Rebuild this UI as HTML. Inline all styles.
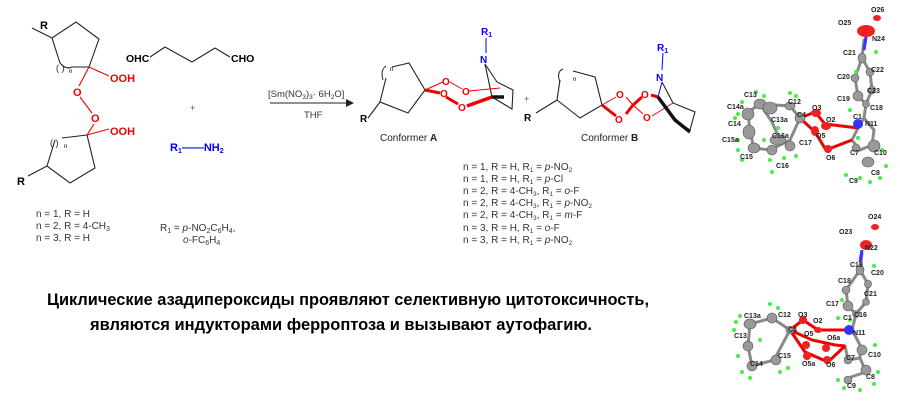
<!DOCTYPE html>
<html><head><meta charset="utf-8"><style>
html,body{margin:0;padding:0;background:#fff;width:900px;height:407px;overflow:hidden}
svg{display:block}
text{font-family:"Liberation Sans",sans-serif}
.t{font-size:10px;fill:#333}
.b{font-weight:bold}
.x{font-size:7px;font-weight:bold;fill:#222}
</style></head><body>
<svg width="900" height="407" viewBox="0 0 900 407" xmlns="http://www.w3.org/2000/svg">
<g fill="none" stroke="#222" stroke-width="1.1">
<!-- top ring -->
<polyline points="32,28 52,38 76,22 99,39 89,67"/>
<polyline points="52,38 60,63"/>
<path d="M60,63 Q66,70 72,67"/>
<line x1="72" y1="67" x2="89" y2="67"/>
<!-- bottom ring -->
<polyline points="87,135 95,168 70,183 47,166 28,176"/>
<polyline points="47,166 55,140"/>
<line x1="62" y1="138" x2="87" y2="135"/>
<!-- glutaraldehyde -->
<polyline points="150,57 165,47 192,62 215,48 230,57"/>
<!-- arrow -->
<line x1="270" y1="103" x2="346" y2="103"/>
</g>
<polygon points="346,99 354,103 346,107" fill="#222"/>
<g fill="none" stroke="#e00" stroke-width="1.1">
<line x1="89" y1="67" x2="109" y2="76"/>
<line x1="89" y1="67" x2="79" y2="86"/>
<line x1="80" y1="97" x2="92" y2="113"/>
<line x1="94" y1="124" x2="87" y2="135"/>
<line x1="87" y1="135" x2="109" y2="129"/>
</g>
<text x="40" y="29" class="b" font-size="11">R</text>
<text x="17" y="185" class="b" font-size="11">R</text>
<text x="56" y="71" font-size="9" fill="#222">( )</text><text x="69" y="73" font-size="6">n</text>
<text x="50" y="146" font-size="9" fill="#222">( )</text><text x="64" y="148" font-size="6">n</text>
<g fill="#e00" font-weight="bold" font-size="11">
<text x="110" y="82">OOH</text>
<text x="73" y="96">O</text>
<text x="91" y="122">O</text>
<text x="110" y="135">OOH</text>
</g>
<text x="126" y="62" class="b" font-size="10.5">OHC</text>
<text x="231" y="62" class="b" font-size="10.5">CHO</text>
<text x="190" y="111" font-size="9" fill="#555">+</text>
<text x="170" y="151" class="b" font-size="11" fill="#00f">R<tspan font-size="7" dy="2">1</tspan><tspan dy="-2">——NH</tspan><tspan font-size="7" dy="2">2</tspan></text>
<g class="t">
<text x="36" y="217">n = 1, R = H</text>
<text x="36" y="229">n = 2, R = 4-CH<tspan font-size="7" dy="2">3</tspan></text>
<text x="36" y="241">n = 3, R = H</text>
<text x="160" y="231">R<tspan font-size="7" dy="2">1</tspan><tspan dy="-2"> =  </tspan><tspan font-style="italic">p</tspan>-NO<tspan font-size="7" dy="2">2</tspan><tspan dy="-2">C</tspan><tspan font-size="7" dy="2">6</tspan><tspan dy="-2">H</tspan><tspan font-size="7" dy="2">4</tspan><tspan dy="-2">,</tspan></text>
<text x="183" y="243"><tspan font-style="italic">o</tspan>-FC<tspan font-size="7" dy="2">6</tspan><tspan dy="-2">H</tspan><tspan font-size="7" dy="2">4</tspan></text>
<text x="268" y="97" font-size="9.5">[Sm(NO<tspan font-size="6.5" dy="2">3</tspan><tspan dy="-2">)</tspan><tspan font-size="6.5" dy="2">3</tspan><tspan dy="-2">· 6H</tspan><tspan font-size="6.5" dy="2">2</tspan><tspan dy="-2">O]</tspan></text>
<text x="304" y="118" font-size="9.5">THF</text>
</g>
<!-- Conformer A -->
<g fill="none" stroke="#222" stroke-width="1.1">
<polyline points="368,118 380,102 386,78"/>
<polyline points="392,67 409,63 425,90 408,113 380,102"/>
<polyline points="492,97 512,109 513,90 497,82 485,64"/>
<line x1="492" y1="97" x2="485" y2="64"/>
</g>
<path d="M383,80 Q380,70 386,66" fill="none" stroke="#222"/>
<text x="390" y="71" font-size="6">n</text>
<g stroke="#e00" fill="none">
<line x1="425" y1="90" x2="443" y2="82" stroke-width="1"/>
<line x1="450" y1="82" x2="462" y2="89" stroke-width="1"/>
<line x1="469" y1="91" x2="500" y2="88" stroke-width="1"/>
<line x1="425" y1="90" x2="440" y2="93" stroke-width="3"/>
<line x1="446" y1="97" x2="458" y2="104" stroke-width="3"/>
<line x1="467" y1="106" x2="492" y2="97" stroke-width="3.5"/>
</g>
<line x1="492" y1="97" x2="504" y2="97" stroke="#111" stroke-width="3.5"/>
<g fill="#e00" font-size="10" font-weight="bold">
<text x="442" y="85">O</text><text x="462" y="95">O</text><text x="440" y="97">O</text><text x="458" y="111">O</text>
</g>
<line x1="486" y1="38" x2="486" y2="53" stroke="#00f"/>
<text x="481" y="35" class="b" font-size="10" fill="#00f">R<tspan font-size="7" dy="2">1</tspan></text>
<text x="480" y="63" class="b" font-size="10" fill="#00f">N</text>
<text x="360" y="122" class="b" font-size="10">R</text>
<text x="380" y="141" font-size="10" fill="#222">Conformer <tspan font-weight="bold">A</tspan></text>
<text x="524" y="102" font-size="9" fill="#555">+</text>
<!-- Conformer B -->
<g fill="none" stroke="#222" stroke-width="1.1">
<polyline points="536,113 557,100 560,80"/>
<polyline points="573,71 595,77 602,105 580,118 557,100"/>
<polyline points="675,120 690,130 695,112 673,103 662,82"/>
</g>
<path d="M560,82 Q556,72 563,69" fill="none" stroke="#222"/>
<text x="573" y="81" font-size="6">n</text>
<g stroke="#e00" fill="none">
<line x1="602" y1="105" x2="616" y2="97" stroke-width="1"/>
<line x1="602" y1="105" x2="616" y2="116" stroke-width="3"/>
<line x1="626" y1="97" x2="633" y2="105" stroke-width="1"/>
<line x1="626" y1="114" x2="633" y2="105" stroke-width="3"/>
<line x1="633" y1="105" x2="642" y2="97" stroke-width="3"/>
<line x1="633" y1="105" x2="643" y2="114" stroke-width="1"/>
<line x1="651" y1="95" x2="658" y2="97" stroke-width="3"/>
<line x1="652" y1="116" x2="673" y2="103" stroke-width="1"/>
</g>
<polyline points="658,97 675,120 690,132" fill="none" stroke="#111" stroke-width="3.5"/>
<line x1="658" y1="97" x2="662" y2="82" stroke="#00f"/>
<g fill="#e00" font-size="10" font-weight="bold">
<text x="616" y="98">O</text><text x="615" y="123">O</text><text x="641" y="98">O</text><text x="643" y="121">O</text>
</g>
<line x1="663" y1="53" x2="662" y2="70" stroke="#00f"/>
<text x="657" y="51" class="b" font-size="10" fill="#00f">R<tspan font-size="7" dy="2">1</tspan></text>
<text x="656" y="81" class="b" font-size="10" fill="#00f">N</text>
<text x="524" y="121" class="b" font-size="10">R</text>
<text x="581" y="141" font-size="10" fill="#222">Conformer <tspan font-weight="bold">B</tspan></text>
<g class="t" font-size="9.5">
<text x="463" y="170">n = 1, R = H, R<tspan font-size="6.5" dy="2">1</tspan><tspan dy="-2"> = </tspan><tspan font-style="italic">p</tspan>-NO<tspan font-size="6.5" dy="2">2</tspan></text>
<text x="463" y="182">n = 1, R = H, R<tspan font-size="6.5" dy="2">1</tspan><tspan dy="-2"> = </tspan><tspan font-style="italic">p</tspan>-Cl</text>
<text x="463" y="194">n = 2, R = 4-CH<tspan font-size="6.5" dy="2">3</tspan><tspan dy="-2">, R</tspan><tspan font-size="6.5" dy="2">1</tspan><tspan dy="-2"> = </tspan><tspan font-style="italic">o</tspan>-F</text>
<text x="463" y="206">n = 2, R = 4-CH<tspan font-size="6.5" dy="2">3</tspan><tspan dy="-2">, R</tspan><tspan font-size="6.5" dy="2">1</tspan><tspan dy="-2"> = </tspan><tspan font-style="italic">p</tspan>-NO<tspan font-size="6.5" dy="2">2</tspan></text>
<text x="463" y="218">n = 2, R = 4-CH<tspan font-size="6.5" dy="2">3</tspan><tspan dy="-2">, R</tspan><tspan font-size="6.5" dy="2">1</tspan><tspan dy="-2"> = </tspan><tspan font-style="italic">m</tspan>-F</text>
<text x="463" y="231">n = 3, R = H, R<tspan font-size="6.5" dy="2">1</tspan><tspan dy="-2"> = </tspan><tspan font-style="italic">o</tspan>-F</text>
<text x="463" y="243">n = 3, R = H, R<tspan font-size="6.5" dy="2">1</tspan><tspan dy="-2"> = </tspan><tspan font-style="italic">p</tspan>-NO<tspan font-size="6.5" dy="2">2</tspan></text>
</g>
<text x="47" y="305" font-size="17" font-weight="bold" fill="#000" textLength="602" lengthAdjust="spacingAndGlyphs">Циклические азадипероксиды проявляют селективную цитотоксичность,</text>
<text x="90" y="330" font-size="17" font-weight="bold" fill="#000" textLength="502" lengthAdjust="spacingAndGlyphs">являются индукторами ферроптоза и  вызывают аутофагию.</text>
<!-- crystal structure top -->
<g stroke="#8a8a8a" stroke-width="3" fill="none" stroke-linecap="round">
<polyline points="864,40 862,58 870,72 872,90 866,104 858,96 855,78 862,58"/>
<polyline points="866,104 864,118 858,128"/>
<polyline points="864,118 874,130 872,145 860,150 852,140 858,128"/>
<polyline points="800,118 790,106 760,104 748,112 750,132 754,148 770,150 790,140 800,118"/>
<polyline points="760,104 772,122 780,140"/>
</g>
<g stroke="#e00" stroke-width="3" fill="none">
<polyline points="800,118 815,112 825,124 858,128"/>
<polyline points="800,118 815,132 826,150 852,140"/>
</g>
<g fill="#999" stroke="#555" stroke-width="0.6">
<ellipse cx="862" cy="58" rx="4" ry="5"/><ellipse cx="870" cy="72" rx="4" ry="4"/><ellipse cx="872" cy="90" rx="3.5" ry="4"/><ellipse cx="855" cy="78" rx="4" ry="4"/><ellipse cx="858" cy="96" rx="5" ry="5"/><ellipse cx="866" cy="104" rx="3.5" ry="3.5"/>
<ellipse cx="874" cy="146" rx="6" ry="6"/><ellipse cx="868" cy="162" rx="6" ry="5"/><ellipse cx="856" cy="148" rx="4" ry="4"/>
<ellipse cx="800" cy="118" rx="5" ry="5"/><ellipse cx="790" cy="106" rx="5" ry="4"/><ellipse cx="760" cy="104" rx="6" ry="5"/><ellipse cx="770" cy="108" rx="7" ry="6"/><ellipse cx="748" cy="114" rx="6" ry="6"/><ellipse cx="749" cy="132" rx="6" ry="7"/><ellipse cx="754" cy="148" rx="6" ry="5"/><ellipse cx="772" cy="150" rx="5" ry="5"/><ellipse cx="778" cy="140" rx="8" ry="5"/><ellipse cx="790" cy="146" rx="5" ry="5"/>
</g>
<g fill="#e22">
<ellipse cx="866" cy="31" rx="9" ry="6"/><ellipse cx="877" cy="18" rx="4" ry="3"/>
<ellipse cx="816" cy="113" rx="5" ry="4"/><ellipse cx="826" cy="126" rx="5" ry="4"/><ellipse cx="815" cy="131" rx="4" ry="5"/><ellipse cx="828" cy="149" rx="4" ry="4"/>
</g>
<ellipse cx="858" cy="124" rx="5" ry="5" fill="#33f"/>
<line x1="866" y1="37" x2="864" y2="50" stroke="#33f" stroke-width="3"/>
<!-- crystal bottom -->
<g stroke="#8a8a8a" stroke-width="3" fill="none" stroke-linecap="round">
<polyline points="862,254 860,270 868,284 866,302 856,314 848,306 846,290 860,270"/>
<polyline points="856,314 852,330 860,345 860,358 848,360 845,346"/>
<polyline points="860,358 866,372 848,378"/>
<polyline points="790,330 772,318 750,324 748,346 752,366 774,360 790,330"/>
</g>
<g stroke="#e00" stroke-width="3" fill="none">
<polyline points="790,330 803,320 818,330 848,330"/>
<polyline points="790,330 805,352 828,362 845,346"/>
<polyline points="790,330 812,340 835,345 845,346"/>
</g>
<g fill="#999" stroke="#555" stroke-width="0.6">
<ellipse cx="860" cy="270" rx="4" ry="5"/><ellipse cx="868" cy="284" rx="3.5" ry="4"/><ellipse cx="846" cy="290" rx="4" ry="4"/><ellipse cx="848" cy="306" rx="5" ry="5"/><ellipse cx="866" cy="302" rx="3.5" ry="3.5"/><ellipse cx="856" cy="314" rx="3.5" ry="3.5"/>
<ellipse cx="862" cy="350" rx="5" ry="5"/><ellipse cx="866" cy="370" rx="5" ry="5"/><ellipse cx="848" cy="360" rx="4" ry="4"/><ellipse cx="848" cy="380" rx="4" ry="4"/>
<ellipse cx="790" cy="330" rx="4" ry="4"/><ellipse cx="772" cy="318" rx="5" ry="5"/><ellipse cx="750" cy="324" rx="6" ry="5"/><ellipse cx="748" cy="346" rx="5" ry="5"/><ellipse cx="752" cy="366" rx="5" ry="5"/><ellipse cx="776" cy="360" rx="5" ry="5"/>
</g>
<g fill="#e22">
<ellipse cx="866" cy="245" rx="6" ry="5"/><ellipse cx="875" cy="227" rx="4" ry="3"/>
<ellipse cx="803" cy="320" rx="4" ry="4"/><ellipse cx="818" cy="330" rx="4" ry="3"/><ellipse cx="806" cy="345" rx="4" ry="4"/><ellipse cx="807" cy="356" rx="4" ry="4"/><ellipse cx="826" cy="348" rx="4" ry="4"/><ellipse cx="827" cy="360" rx="4" ry="4"/>
</g>
<ellipse cx="849" cy="330" rx="5" ry="5" fill="#33f"/>
<line x1="862" y1="250" x2="860" y2="262" stroke="#33f" stroke-width="3"/>
<g fill="#4e4">
<circle cx="876" cy="52" r="2"/><circle cx="856" cy="72" r="2"/><circle cx="850" cy="110" r="2"/><circle cx="882" cy="150" r="2"/><circle cx="886" cy="166" r="2"/><circle cx="880" cy="178" r="2"/><circle cx="860" cy="178" r="2"/><circle cx="870" cy="182" r="2"/><circle cx="846" cy="175" r="2"/><circle cx="858" cy="138" r="2"/>
<circle cx="756" cy="92" r="2"/><circle cx="764" cy="96" r="2"/><circle cx="790" cy="93" r="2"/><circle cx="796" cy="96" r="2"/><circle cx="738" cy="114" r="2"/><circle cx="735" cy="118" r="2"/><circle cx="742" cy="102" r="2"/><circle cx="738" cy="140" r="2"/><circle cx="738" cy="150" r="2"/><circle cx="742" cy="160" r="2"/><circle cx="772" cy="172" r="2"/><circle cx="778" cy="128" r="2"/><circle cx="784" cy="158" r="2"/><circle cx="796" cy="156" r="2"/><circle cx="764" cy="140" r="2"/><circle cx="770" cy="160" r="2"/>
<circle cx="874" cy="266" r="2"/><circle cx="842" cy="300" r="2"/><circle cx="838" cy="318" r="2"/><circle cx="850" cy="320" r="2"/><circle cx="875" cy="345" r="2"/><circle cx="878" cy="372" r="2"/><circle cx="874" cy="384" r="2"/><circle cx="860" cy="390" r="2"/><circle cx="844" cy="388" r="2"/><circle cx="838" cy="380" r="2"/>
<circle cx="770" cy="304" r="2"/><circle cx="778" cy="308" r="2"/><circle cx="736" cy="322" r="2"/><circle cx="734" cy="330" r="2"/><circle cx="740" cy="316" r="2"/><circle cx="738" cy="356" r="2"/><circle cx="742" cy="372" r="2"/><circle cx="750" cy="378" r="2"/><circle cx="780" cy="372" r="2"/><circle cx="788" cy="368" r="2"/><circle cx="760" cy="340" r="2"/>
</g>
<g class="x">
<text x="871" y="12">O26</text><text x="838" y="25">O25</text><text x="872" y="41">N24</text><text x="843" y="55">C21</text><text x="871" y="72">C22</text><text x="837" y="79">C20</text><text x="867" y="93">C23</text><text x="837" y="101">C19</text><text x="870" y="110">C18</text><text x="853" y="119">C1</text><text x="865" y="126">N11</text>
<text x="812" y="110">O3</text><text x="826" y="122">O2</text><text x="797" y="117">C4</text><text x="788" y="104">C12</text><text x="744" y="97">C13</text><text x="727" y="109">C14a</text><text x="771" y="122">C13a</text><text x="728" y="126">C14</text><text x="772" y="138">C16a</text><text x="816" y="138">O5</text><text x="722" y="142">C15a</text><text x="799" y="145">C17</text><text x="826" y="160">O6</text><text x="850" y="155">C7</text><text x="874" y="155">C10</text><text x="740" y="159">C15</text><text x="776" y="168">C16</text><text x="871" y="175">C8</text><text x="849" y="183">C9</text>
<text x="868" y="219">O24</text><text x="839" y="234">O23</text><text x="865" y="250">N22</text><text x="850" y="267">C19</text><text x="871" y="275">C20</text><text x="838" y="283">C18</text><text x="864" y="296">C21</text><text x="826" y="306">C17</text><text x="854" y="317">C16</text><text x="843" y="320">C1</text><text x="853" y="335">N11</text>
<text x="798" y="317">O3</text><text x="813" y="323">O2</text><text x="778" y="317">C12</text><text x="744" y="318">C13a</text><text x="788" y="332">C4</text><text x="804" y="336">O5</text><text x="734" y="338">C13</text><text x="827" y="340">O6a</text><text x="778" y="358">C15</text><text x="868" y="357">C10</text><text x="750" y="366">C14</text><text x="802" y="366">O5a</text><text x="826" y="367">O6</text><text x="846" y="360">C7</text><text x="866" y="379">C8</text><text x="847" y="388">C9</text>
</g>
</svg>
</body></html>
